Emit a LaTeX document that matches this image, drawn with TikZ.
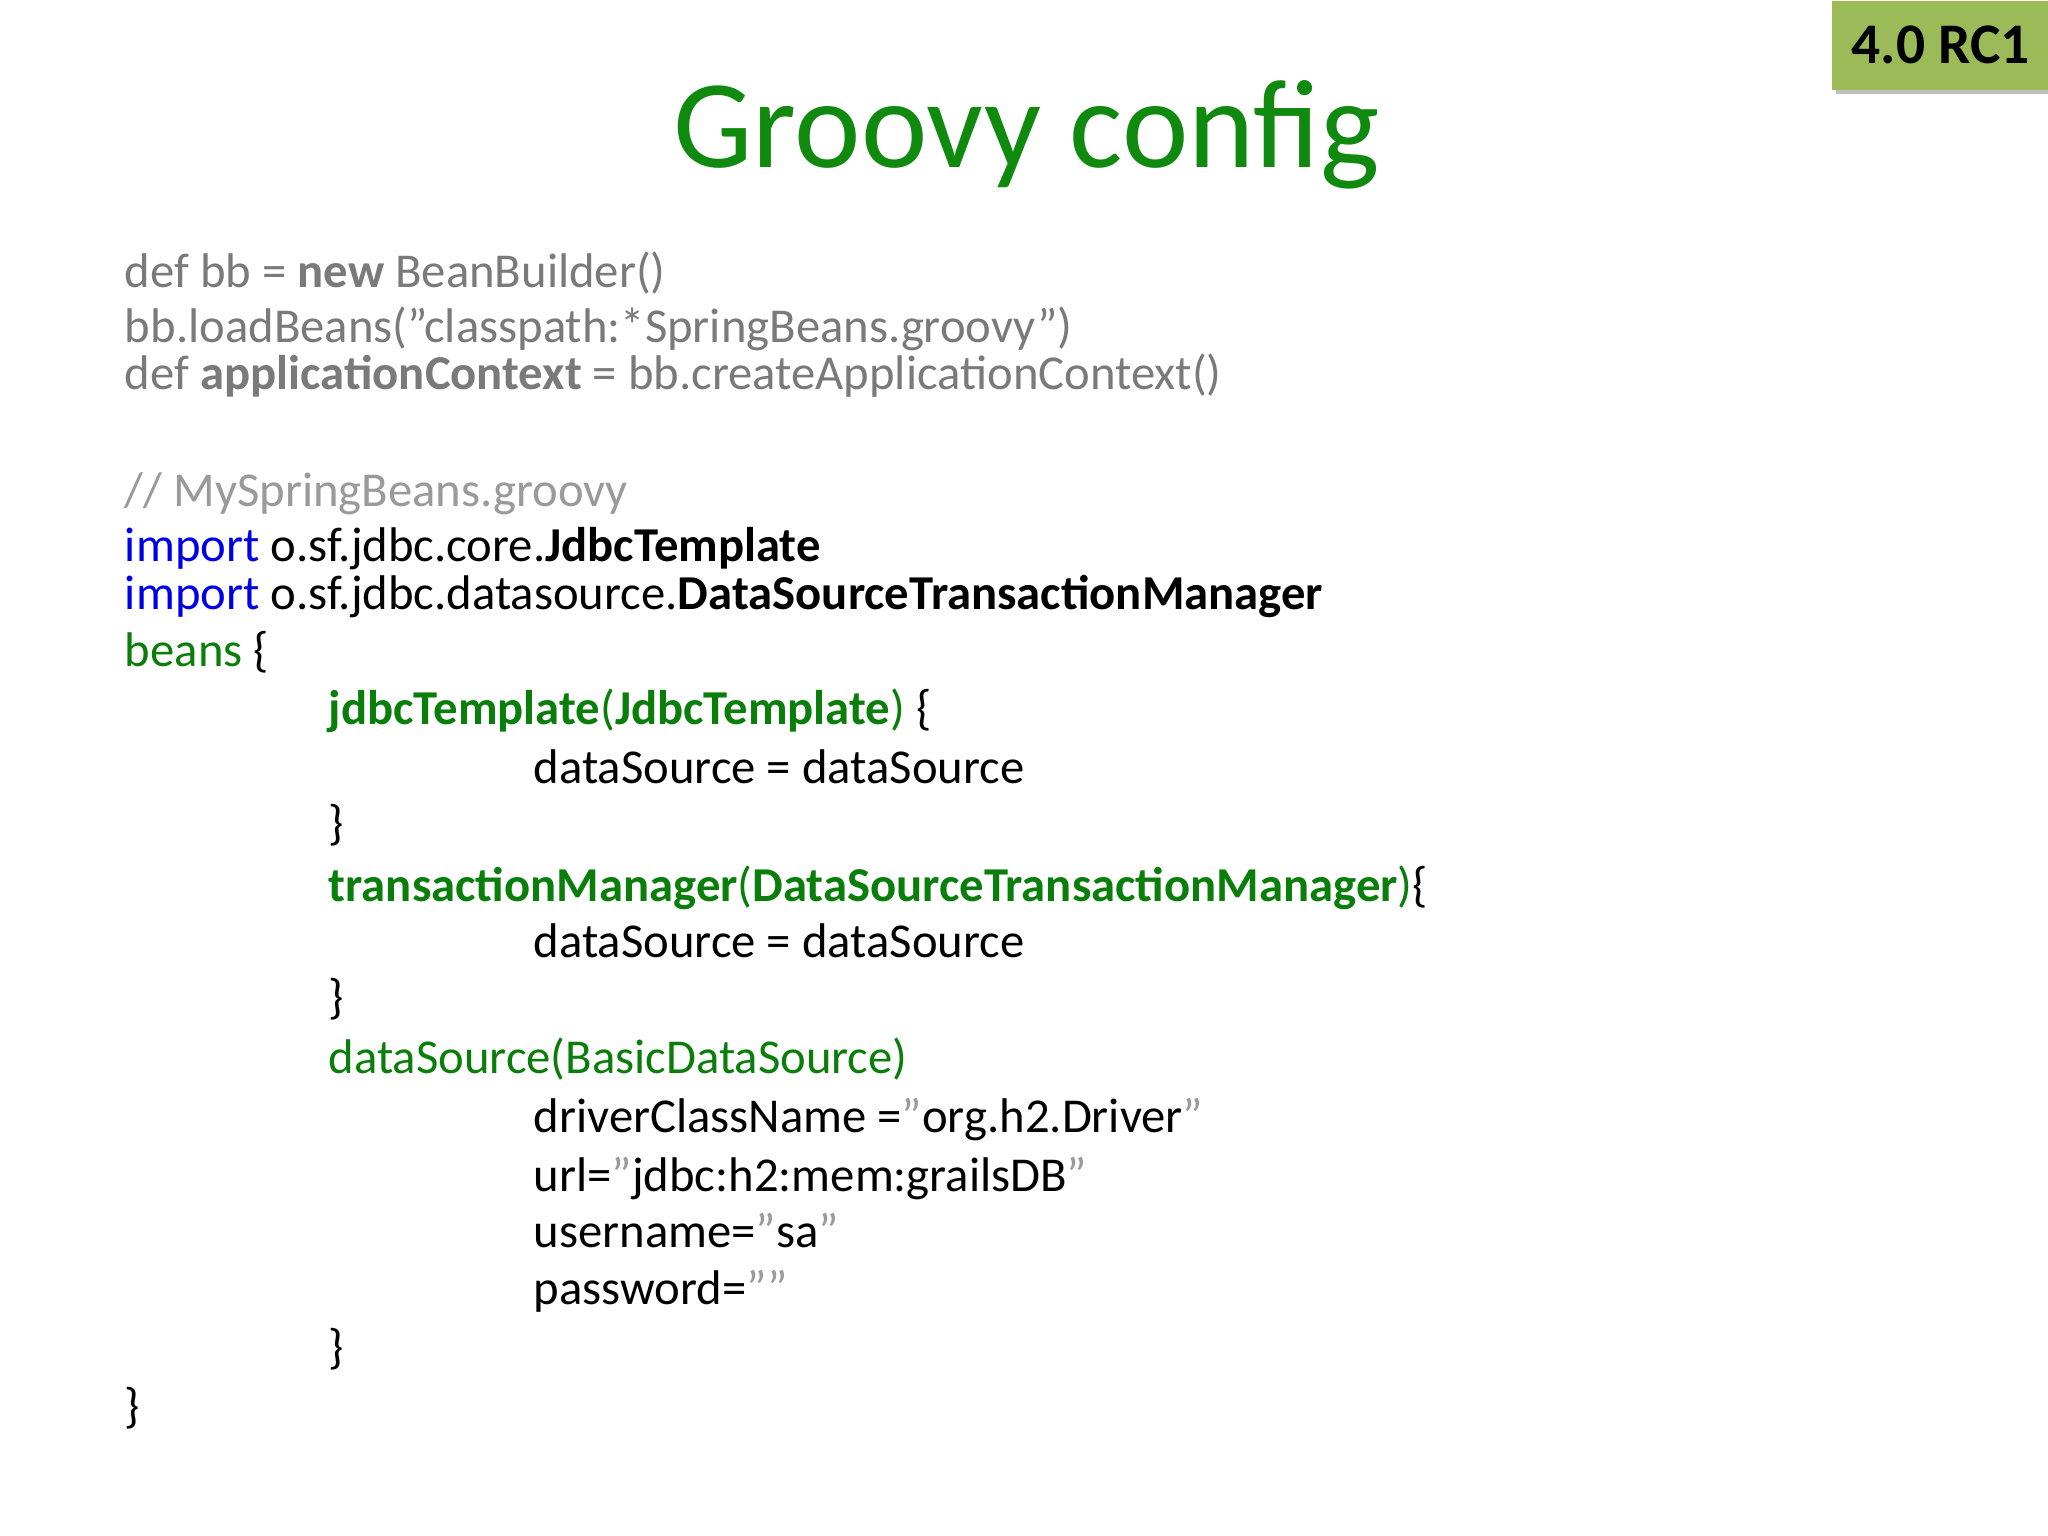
\documentclass[tikz,border=0pt]{standalone}
\usepackage{fontspec}
\setmainfont{Carlito}
\newcommand{\dq}{\symbol{34}}
\definecolor{gtitle}{HTML}{0F8A0F}
\definecolor{ggreen}{HTML}{0A7E0A}
\definecolor{gblue}{HTML}{0000E6}
\definecolor{ggray}{HTML}{7A7A7A}
\definecolor{gcom}{HTML}{9A9A9A}
\definecolor{badge}{HTML}{9BBB59}
\begin{document}
\begin{tikzpicture}[x=0.01cm,y=-0.01cm,
  code/.style={anchor=base west,inner sep=0pt,font=\fontsize{10.6pt}{12pt}\selectfont}]
\useasboundingbox (0,0) rectangle (1568,1176);
\fill[white] (0,0) rectangle (1568,1176);
\fill[black!25] (1406,4) rectangle (1572,72);
\node[fill=badge,minimum width=1.66cm,minimum height=0.68cm,inner sep=0pt,anchor=north west,font=\fontsize{12.5pt}{15pt}\selectfont\bfseries] (badge) at (1402,0) {4.0 RC1};
\node[anchor=base,inner sep=0pt,text=gtitle,font=\fontsize{27.4pt}{32pt}\selectfont] (title) at (786,128) {Groovy config};
\node[code,text=ggray] (l1) at (95,220) {def bb = \textbf{new} BeanBuilder()};
\node[code,text=ggray] (l2) at (95,262) {bb.loadBeans(\dq classpath:*SpringBeans.groovy\dq)};
\node[code,text=ggray] (l3) at (95,298) {def \textbf{applicationContext} = bb.createApplicationContext()};
\node[code,text=gcom] (l4) at (95,388) {// MySpringBeans.groovy};
\node[code] (l5) at (95,430) {\textcolor{gblue}{import} o.sf.jdbc.core.\textbf{JdbcTemplate}};
\node[code] (l6) at (95,467) {\textcolor{gblue}{import} o.sf.jdbc.datasource.\textbf{DataSourceTransactionManager}};
\node[code] (l7) at (95,510) {\textcolor{ggreen}{beans} \{};
\node[code] (l8) at (251,555) {\textcolor{ggreen}{\textbf{jdbcTemplate}(\textbf{JdbcTemplate})} \{};
\node[code] (l9) at (408,600) {dataSource = dataSource};
\node[code] (l10) at (251,643) {\}};
\node[code] (l11) at (251,690) {\textcolor{ggreen}{\textbf{transactionManager}(\textbf{DataSourceTransactionManager})}\{};
\node[code] (l12) at (408,733) {dataSource = dataSource};
\node[code] (l13) at (251,776) {\}};
\node[code] (l14) at (251,822) {\textcolor{ggreen}{dataSource(BasicDataSource)}};
\node[code] (l15) at (408,867) {driverClassName =\textcolor{gcom}{\dq}org.h2.Driver\textcolor{gcom}{\dq}};
\node[code] (l16) at (408,912) {url=\textcolor{gcom}{\dq}jdbc:h2:mem:grailsDB\textcolor{gcom}{\dq}};
\node[code] (l17) at (408,955) {username=\textcolor{gcom}{\dq}sa\textcolor{gcom}{\dq}};
\node[code] (l18) at (408,999) {password=\textcolor{gcom}{\dq\dq}};
\node[code] (l19) at (251,1044) {\}};
\node[code] (l20) at (95,1089) {\}};
\end{tikzpicture}
\end{document}
